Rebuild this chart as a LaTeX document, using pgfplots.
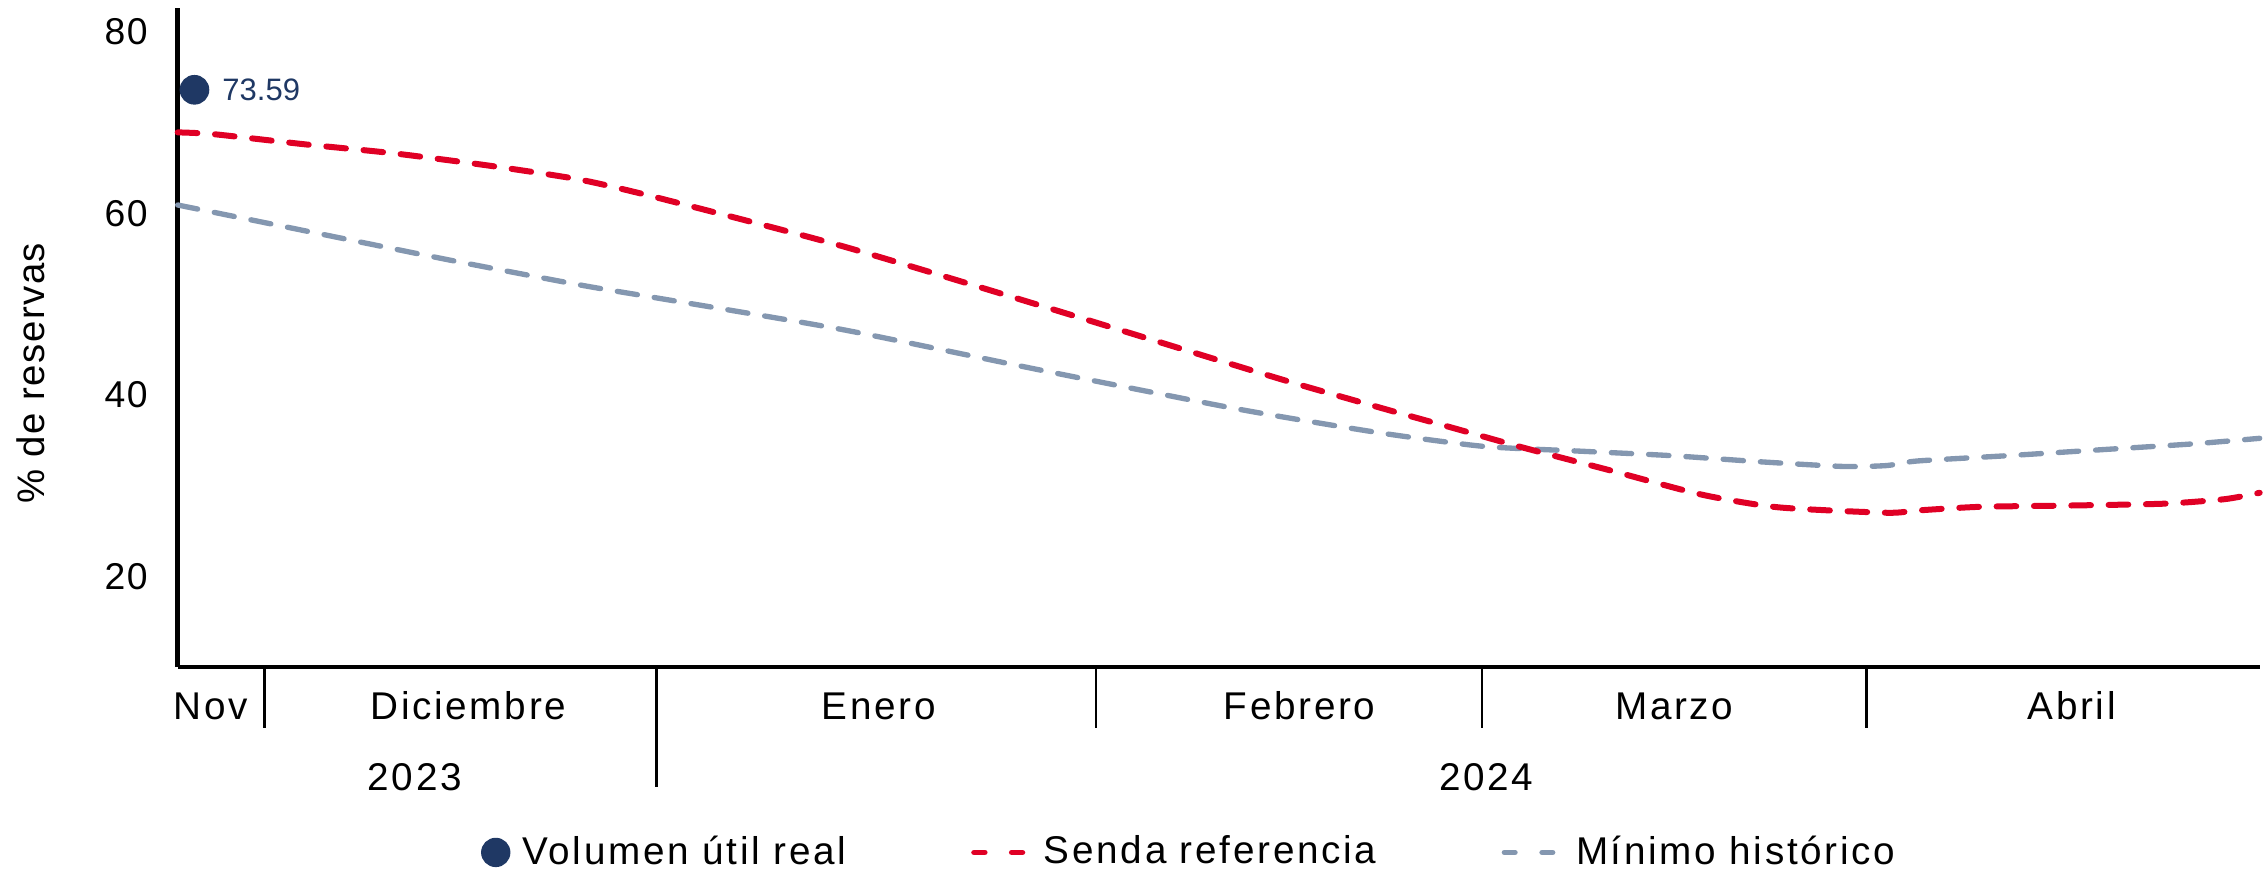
\documentclass[border=0pt]{standalone}
\usepackage{fontspec}
\setmainfont{Liberation Sans}
\newfontfamily\spaced{Liberation Sans}[LetterSpace=7]
\newfontfamily\spacedsm{Liberation Sans}[LetterSpace=4]
\usepackage{pgfplots}
\pgfplotsset{compat=1.18}
\definecolor{senda}{RGB}{224,0,37}
\definecolor{minimo}{RGB}{132,151,176}
\definecolor{navy}{RGB}{31,56,100}

\pgfplotstableread{
x y
0 68.9
25 68.7
87 67.6
149 66.6
217 65.2
278 63.7
332 61.7
459 56.4
591 50.1
724 43.6
776 41.1
840 38.2
883 36.3
930 34.2
990 31.7
1054 29.0
1107 27.6
1182 27.0
1203 27.25
1246 27.65
1310 27.8
1374 28.0
1416 28.5
1440 29.2
}\senda

\pgfplotstableread{
x y
0 60.9
93 57.9
186 54.9
278 52.1
330 50.7
459 47.2
591 42.9
724 38.7
785 37.0
840 35.6
904 34.3
968 33.8
1032 33.3
1096 32.6
1152 32.1
1182 32.2
1203 32.7
1267 33.3
1331 33.95
1395 34.6
1440 35.2
}\minimo

\begin{document}
\begin{tikzpicture}
\useasboundingbox (-53.3pt,-61.8pt) rectangle (626.7pt,200.1pt);
\begin{axis}[
  at={(0,0)}, anchor=south west,
  scale only axis, width=624.5pt, height=197.7pt,
  xmin=0, xmax=1440, ymin=10, ymax=82.6,
  axis x line*=bottom, axis y line*=left,
  x axis line style={line width=1.3pt, -},
  y axis line style={line width=1.5pt, -},
  xtick=\empty,
  ytick={20,40,60,80},
  major tick length=0pt,
  /pgf/number format/assume math mode=true,
  yticklabel style={font=\spacedsm\fontsize{11.2}{13}\selectfont, inner sep=0pt, xshift=-8.8pt},
  clip=false,
  legend columns=3,
  legend style={at={(axis description cs:0.1454,-0.2812)}, anchor=west,
    draw=none, fill=none, inner sep=0pt,
    font=\spaced\fontsize{11.6}{13}\selectfont,
    nodes={inner sep=0pt},
    /tikz/column 1/.style={column sep=3.6pt},
    /tikz/column 2/.style={column sep=37.5pt},
    /tikz/column 3/.style={column sep=5.6pt},
    /tikz/column 4/.style={column sep=37.6pt},
    /tikz/column 5/.style={column sep=6.2pt}},
]
\addplot[forget plot, minimo, line width=1.6pt, line cap=round, dash pattern=on 6.1pt off 5.1pt, smooth, tension=0.4] table[x=x,y=y] {\minimo};
\addplot[forget plot, senda, line width=1.8pt, line cap=round, dash pattern=on 5.9pt off 5.3pt, smooth, tension=0.4] table[x=x,y=y] {\senda};
\addplot[forget plot, only marks, mark=*, mark size=4.25pt, navy,
  nodes near coords={73.59},
  every node near coord/.append style={anchor=west, xshift=8.2pt, inner sep=0pt, text=navy, font=\fontsize{9.3}{11}\selectfont}]
  coordinates {(11.6,73.59)};
\addlegendimage{legend image code/.code={\fill[navy] (0pt,0pt) circle (4.2pt);}}
\addlegendentry{Volumen útil real}
\addlegendimage{legend image code/.code={\draw[senda, line width=1.7pt, line cap=round, dash pattern=on 3.2pt off 8.1pt] (0pt,0pt) -- (14.5pt,0pt);}}
\addlegendentry{Senda referencia}
\addlegendimage{legend image code/.code={\draw[minimo, line width=1.6pt, line cap=round, dash pattern=on 3.2pt off 8.1pt] (0pt,0pt) -- (14.5pt,0pt);}}
\addlegendentry{Mínimo histórico}
\end{axis}
% y label
\node[rotate=90, font=\spacedsm\fontsize{11.5}{13}\selectfont] at (-44pt,88.2pt) {\% de reservas};
% separators
\foreach \xx in {26.0,275.4,391.2,506.6} {\draw[line width=0.8pt] (\xx pt,0pt) -- (\xx pt,-18.3pt);}
\draw[line width=0.8pt] (143.6pt,0pt) -- (143.6pt,-36pt);
% month labels
\begin{scope}[every node/.style={anchor=base, inner sep=0pt, font=\spaced\fontsize{11.6}{13}\selectfont}]
\node at (10.0pt,-15.6pt) {Nov};
\node at (87.2pt,-15.6pt) {Diciembre};
\node at (210.3pt,-15.6pt) {Enero};
\node at (336.5pt,-15.6pt) {Febrero};
\node at (448.9pt,-15.6pt) {Marzo};
\node at (568.1pt,-15.6pt) {Abril};
\node at (71.1pt,-36.9pt) {2023};
\node at (392.5pt,-36.9pt) {2024};
\end{scope}
\end{tikzpicture}
\end{document}
